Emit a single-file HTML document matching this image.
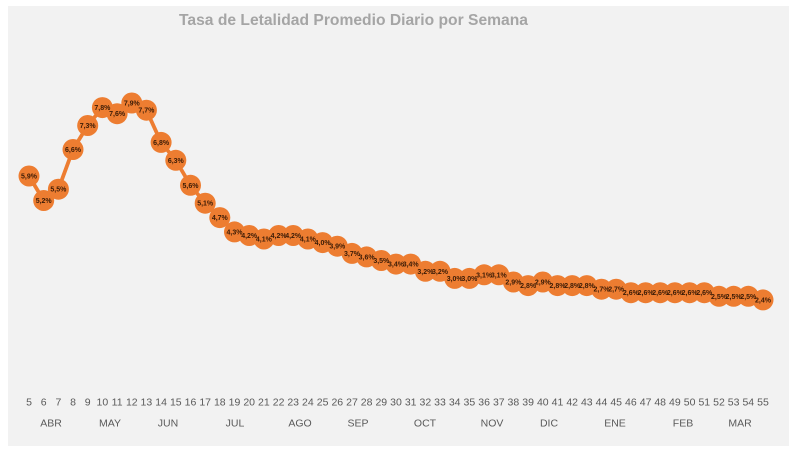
<!DOCTYPE html>
<html><head><meta charset="utf-8"><style>
html,body{margin:0;padding:0;background:#fff;}
svg{display:block;}
</style></head><body>
<svg width="790" height="463" viewBox="0 0 790 463" xmlns="http://www.w3.org/2000/svg">
<rect x="0" y="0" width="790" height="463" fill="#ffffff"/>
<rect x="8" y="6" width="781" height="440" fill="#f2f2f2"/>
<text x="353.5" y="25" text-anchor="middle" font-family="Liberation Sans, sans-serif" font-weight="bold" font-size="16" fill="#a5a5a5" textLength="349" lengthAdjust="spacingAndGlyphs">Tasa de Letalidad Promedio Diario por Semana</text>
<polyline fill="none" stroke="#ed7d31" stroke-width="3.8" stroke-linejoin="round" points="29,176 43.7,200.5 58.4,189.2 73,149.5 87.7,125.5 102.4,107.6 117.1,113.7 131.8,103 146.4,110.2 161.1,142.4 175.8,160.3 190.5,185.3 205.2,203.2 219.8,217.6 234.5,231.9 249.2,235.5 263.9,239 278.6,235.5 293.2,235.5 307.9,239 322.6,242.6 337.3,246.2 352,253.4 366.6,256.9 381.3,260.5 396,264.1 410.7,264.1 425.4,271.3 440,271.3 454.7,278.4 469.4,278.4 484.1,274.8 498.8,274.8 513.4,282 528.1,285.6 542.8,282 557.5,285.6 572.2,285.6 586.8,285.6 601.5,289.2 616.2,289.2 630.9,292.7 645.6,292.7 660.2,292.7 674.9,292.7 689.6,292.7 704.3,292.7 719,296.3 733.6,296.3 748.3,296.3 763,299.9"/>
<g fill="#ed7d31">
<circle cx="29" cy="176" r="10.5"/><circle cx="43.7" cy="200.5" r="10.5"/><circle cx="58.4" cy="189.2" r="10.5"/><circle cx="73" cy="149.5" r="10.5"/><circle cx="87.7" cy="125.5" r="10.5"/><circle cx="102.4" cy="107.6" r="10.5"/><circle cx="117.1" cy="113.7" r="10.5"/><circle cx="131.8" cy="103" r="10.5"/><circle cx="146.4" cy="110.2" r="10.5"/><circle cx="161.1" cy="142.4" r="10.5"/><circle cx="175.8" cy="160.3" r="10.5"/><circle cx="190.5" cy="185.3" r="10.5"/><circle cx="205.2" cy="203.2" r="10.5"/><circle cx="219.8" cy="217.6" r="10.5"/><circle cx="234.5" cy="231.9" r="10.5"/><circle cx="249.2" cy="235.5" r="10.5"/><circle cx="263.9" cy="239" r="10.5"/><circle cx="278.6" cy="235.5" r="10.5"/><circle cx="293.2" cy="235.5" r="10.5"/><circle cx="307.9" cy="239" r="10.5"/><circle cx="322.6" cy="242.6" r="10.5"/><circle cx="337.3" cy="246.2" r="10.5"/><circle cx="352" cy="253.4" r="10.5"/><circle cx="366.6" cy="256.9" r="10.5"/><circle cx="381.3" cy="260.5" r="10.5"/><circle cx="396" cy="264.1" r="10.5"/><circle cx="410.7" cy="264.1" r="10.5"/><circle cx="425.4" cy="271.3" r="10.5"/><circle cx="440" cy="271.3" r="10.5"/><circle cx="454.7" cy="278.4" r="10.5"/><circle cx="469.4" cy="278.4" r="10.5"/><circle cx="484.1" cy="274.8" r="10.5"/><circle cx="498.8" cy="274.8" r="10.5"/><circle cx="513.4" cy="282" r="10.5"/><circle cx="528.1" cy="285.6" r="10.5"/><circle cx="542.8" cy="282" r="10.5"/><circle cx="557.5" cy="285.6" r="10.5"/><circle cx="572.2" cy="285.6" r="10.5"/><circle cx="586.8" cy="285.6" r="10.5"/><circle cx="601.5" cy="289.2" r="10.5"/><circle cx="616.2" cy="289.2" r="10.5"/><circle cx="630.9" cy="292.7" r="10.5"/><circle cx="645.6" cy="292.7" r="10.5"/><circle cx="660.2" cy="292.7" r="10.5"/><circle cx="674.9" cy="292.7" r="10.5"/><circle cx="689.6" cy="292.7" r="10.5"/><circle cx="704.3" cy="292.7" r="10.5"/><circle cx="719" cy="296.3" r="10.5"/><circle cx="733.6" cy="296.3" r="10.5"/><circle cx="748.3" cy="296.3" r="10.5"/><circle cx="763" cy="299.9" r="10.5"/>
</g>
<g font-family="Liberation Sans, sans-serif" font-weight="bold" font-size="7" fill="#3a1b06" text-anchor="middle">
<text x="29" y="178.5">5,9%</text><text x="43.7" y="203">5,2%</text><text x="58.4" y="191.7">5,5%</text><text x="73" y="152">6,6%</text><text x="87.7" y="128">7,3%</text><text x="102.4" y="110.1">7,8%</text><text x="117.1" y="116.2">7,6%</text><text x="131.8" y="105.5">7,9%</text><text x="146.4" y="112.7">7,7%</text><text x="161.1" y="144.9">6,8%</text><text x="175.8" y="162.8">6,3%</text><text x="190.5" y="187.8">5,6%</text><text x="205.2" y="205.7">5,1%</text><text x="219.8" y="220.1">4,7%</text><text x="234.5" y="234.4">4,3%</text><text x="249.2" y="238">4,2%</text><text x="263.9" y="241.5">4,1%</text><text x="278.6" y="238">4,2%</text><text x="293.2" y="238">4,2%</text><text x="307.9" y="241.5">4,1%</text><text x="322.6" y="245.1">4,0%</text><text x="337.3" y="248.7">3,9%</text><text x="352" y="255.9">3,7%</text><text x="366.6" y="259.4">3,6%</text><text x="381.3" y="263">3,5%</text><text x="396" y="266.6">3,4%</text><text x="410.7" y="266.6">3,4%</text><text x="425.4" y="273.8">3,2%</text><text x="440" y="273.8">3,2%</text><text x="454.7" y="280.9">3,0%</text><text x="469.4" y="280.9">3,0%</text><text x="484.1" y="277.3">3,1%</text><text x="498.8" y="277.3">3,1%</text><text x="513.4" y="284.5">2,9%</text><text x="528.1" y="288.1">2,8%</text><text x="542.8" y="284.5">2,9%</text><text x="557.5" y="288.1">2,8%</text><text x="572.2" y="288.1">2,8%</text><text x="586.8" y="288.1">2,8%</text><text x="601.5" y="291.7">2,7%</text><text x="616.2" y="291.7">2,7%</text><text x="630.9" y="295.2">2,6%</text><text x="645.6" y="295.2">2,6%</text><text x="660.2" y="295.2">2,6%</text><text x="674.9" y="295.2">2,6%</text><text x="689.6" y="295.2">2,6%</text><text x="704.3" y="295.2">2,6%</text><text x="719" y="298.8">2,5%</text><text x="733.6" y="298.8">2,5%</text><text x="748.3" y="298.8">2,5%</text><text x="763" y="302.4">2,4%</text>
</g>
<g font-family="Liberation Sans, sans-serif" font-size="10.5" fill="#595959" text-anchor="middle">
<text x="29" y="405.5">5</text><text x="43.7" y="405.5">6</text><text x="58.4" y="405.5">7</text><text x="73" y="405.5">8</text><text x="87.7" y="405.5">9</text><text x="102.4" y="405.5">10</text><text x="117.1" y="405.5">11</text><text x="131.8" y="405.5">12</text><text x="146.4" y="405.5">13</text><text x="161.1" y="405.5">14</text><text x="175.8" y="405.5">15</text><text x="190.5" y="405.5">16</text><text x="205.2" y="405.5">17</text><text x="219.8" y="405.5">18</text><text x="234.5" y="405.5">19</text><text x="249.2" y="405.5">20</text><text x="263.9" y="405.5">21</text><text x="278.6" y="405.5">22</text><text x="293.2" y="405.5">23</text><text x="307.9" y="405.5">24</text><text x="322.6" y="405.5">25</text><text x="337.3" y="405.5">26</text><text x="352" y="405.5">27</text><text x="366.6" y="405.5">28</text><text x="381.3" y="405.5">29</text><text x="396" y="405.5">30</text><text x="410.7" y="405.5">31</text><text x="425.4" y="405.5">32</text><text x="440" y="405.5">33</text><text x="454.7" y="405.5">34</text><text x="469.4" y="405.5">35</text><text x="484.1" y="405.5">36</text><text x="498.8" y="405.5">37</text><text x="513.4" y="405.5">38</text><text x="528.1" y="405.5">39</text><text x="542.8" y="405.5">40</text><text x="557.5" y="405.5">41</text><text x="572.2" y="405.5">42</text><text x="586.8" y="405.5">43</text><text x="601.5" y="405.5">44</text><text x="616.2" y="405.5">45</text><text x="630.9" y="405.5">46</text><text x="645.6" y="405.5">47</text><text x="660.2" y="405.5">48</text><text x="674.9" y="405.5">49</text><text x="689.6" y="405.5">50</text><text x="704.3" y="405.5">51</text><text x="719" y="405.5">52</text><text x="733.6" y="405.5">53</text><text x="748.3" y="405.5">54</text><text x="763" y="405.5">55</text>
<text x="51" y="426.5">ABR</text><text x="110" y="426.5">MAY</text><text x="168" y="426.5">JUN</text><text x="235" y="426.5">JUL</text><text x="300" y="426.5">AGO</text><text x="358" y="426.5">SEP</text><text x="425" y="426.5">OCT</text><text x="492" y="426.5">NOV</text><text x="549" y="426.5">DIC</text><text x="615" y="426.5">ENE</text><text x="683" y="426.5">FEB</text><text x="740" y="426.5">MAR</text>
</g>
</svg>
</body></html>
